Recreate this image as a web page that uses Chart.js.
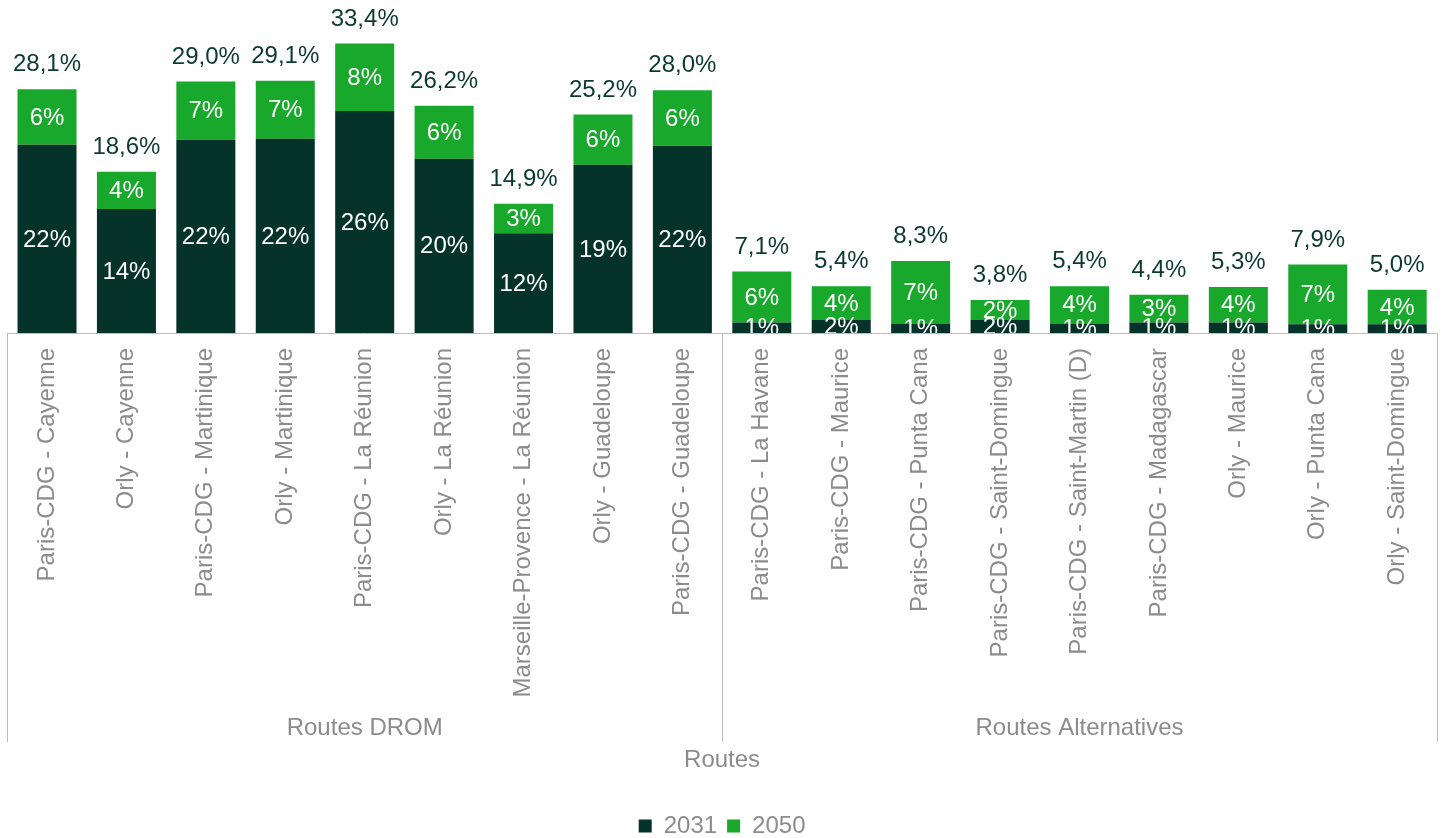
<!DOCTYPE html>
<html lang="fr">
<head>
<meta charset="utf-8">
<title>Routes</title>
<script src="https://cdn.jsdelivr.net/npm/chart.js@4.4.1/dist/chart.umd.min.js"></script>
<style>
  html, body { margin: 0; padding: 0; background: #ffffff; }
  #wrap { width: 1443px; height: 838px; position: relative; }
</style>
</head>
<body>
<div id="wrap"><canvas id="chart"></canvas></div>
<script>
// Routes, in display order
const routes = [
  'Paris-CDG - Cayenne', 'Orly - Cayenne', 'Paris-CDG - Martinique', 'Orly - Martinique',
  'Paris-CDG - La Réunion', 'Orly - La Réunion', 'Marseille-Provence - La Réunion',
  'Orly - Guadeloupe', 'Paris-CDG - Guadeloupe',
  'Paris-CDG - La Havane', 'Paris-CDG - Maurice', 'Paris-CDG - Punta Cana',
  'Paris-CDG - Saint-Domingue', 'Paris-CDG - Saint-Martin (D)', 'Paris-CDG - Madagascar',
  'Orly - Maurice', 'Orly - Punta Cana', 'Orly - Saint-Domingue'
];

// Route groups and how many routes each holds
const groupNames = ['Routes DROM', 'Routes Alternatives'];
const groupSizes = [9, 9];

// Values in %
const values2031 = [21.7, 14.3, 22.3, 22.4, 25.6, 20.1, 11.5, 19.4, 21.6,
                    1.2, 1.5, 1.1, 1.5, 1.1, 1.2, 1.2, 1.0, 1.0];
const values2050 = [6.4, 4.3, 6.7, 6.7, 7.8, 6.1, 3.4, 5.8, 6.4,
                    5.9, 3.9, 7.2, 2.3, 4.3, 3.2, 4.1, 6.9, 4.0];

const seriesNames = ['2031', '2050'];

const FONT = 'Liberation Sans, Arial, Helvetica, sans-serif';
const FS = 24;
const GREY = '#8c8c8c';
const LINE = '#bcbcbc';
const DARK = '#05332a';
const GREEN = '#18a82c';
const LABEL_DARK = '#0b3a2e';

const fmtTotal = v => (Math.round(v * 10) / 10).toFixed(1).replace('.', ',') + '%';

// Segment values inside the bars and totals above them
const barLabels = {
  id: 'barLabels',
  afterDatasetsDraw(chart) {
    const { ctx, chartArea } = chart;
    ctx.save();
    ctx.font = `${FS}px ${FONT}`;
    ctx.textAlign = 'center';
    ctx.textBaseline = 'middle';

    // inside labels, clipped to the plot area
    ctx.save();
    ctx.beginPath();
    ctx.rect(chartArea.left, chartArea.top, chartArea.right - chartArea.left, chartArea.bottom - chartArea.top);
    ctx.clip();
    ctx.fillStyle = '#ffffff';
    chart.data.datasets.forEach((ds, di) => {
      const meta = chart.getDatasetMeta(di);
      meta.data.forEach((bar, i) => {
        const { x, y, base } = bar.getProps(['x', 'y', 'base'], true);
        ctx.fillText(Math.round(ds.data[i]) + '%', x, (y + base) / 2 + 1);
      });
    });
    ctx.restore();

    // totals
    ctx.fillStyle = LABEL_DARK;
    const topMeta = chart.getDatasetMeta(chart.data.datasets.length - 1);
    topMeta.data.forEach((bar, i) => {
      const total = chart.data.datasets.reduce((s, ds) => s + ds.data[i], 0);
      ctx.fillText(fmtTotal(total), bar.x, bar.y - 24.5);
    });
    ctx.restore();
  }
};

// Group separators and group names under the route labels
const routeGroups = {
  id: 'routeGroups',
  afterDraw(chart) {
    const { ctx, chartArea } = chart;
    const xs = chart.scales.x;
    const lineBottom = 742;
    const labelY = 728;
    const edges = [xs.left];
    let idx = 0;
    groupSizes.forEach(n => {
      idx += n;
      if (idx >= routes.length) edges.push(xs.right);
      else edges.push((xs.getPixelForTick(idx - 1) + xs.getPixelForTick(idx)) / 2);
    });
    ctx.save();
    ctx.strokeStyle = LINE;
    ctx.lineWidth = 1;
    edges.forEach(ex => {
      const px = Math.round(ex) + 0.5;
      ctx.beginPath();
      ctx.moveTo(px, chartArea.bottom);
      ctx.lineTo(px, lineBottom);
      ctx.stroke();
    });
    ctx.fillStyle = GREY;
    ctx.font = `${FS}px ${FONT}`;
    ctx.textAlign = 'center';
    ctx.textBaseline = 'middle';
    groupNames.forEach((name, g) => {
      ctx.fillText(name, (edges[g] + edges[g + 1]) / 2, labelY);
    });
    ctx.restore();
  }
};

new Chart(document.getElementById('chart'), {
  type: 'bar',
  data: {
    labels: routes,
    datasets: [
      { label: seriesNames[0], data: values2031, backgroundColor: DARK },
      { label: seriesNames[1], data: values2050, backgroundColor: GREEN }
    ]
  },
  options: {
    responsive: true,
    maintainAspectRatio: false,
    animation: false,
    layout: { padding: { left: 7.3, right: 6.1, top: 10, bottom: -10 } },
    datasets: { bar: { categoryPercentage: 1, barPercentage: 0.743 } },
    scales: {
      x: {
        stacked: true,
        grid: { display: false, drawTicks: false },
        border: { display: true, color: LINE, width: 1 },
        ticks: {
          color: GREY,
          font: { family: FONT, size: FS },
          minRotation: 90,
          maxRotation: 90,
          autoSkip: false,
          padding: 15
        },
        title: {
          display: true,
          text: 'Routes',
          color: GREY,
          font: { family: FONT, size: FS },
          padding: { top: 0, bottom: 29.5 }
        },
        afterFit(scale) { scale.height = 471; }
      },
      y: {
        stacked: true,
        display: false,
        min: 0,
        max: 37.25
      }
    },
    plugins: {
      legend: {
        position: 'bottom',
        labels: {
          color: GREY,
          font: { family: FONT, size: FS },
          boxWidth: 13,
          boxHeight: 13,
          padding: 10
        }
      },
      tooltip: { enabled: false }
    }
  },
  plugins: [barLabels, routeGroups]
});
</script>
</body>
</html>
